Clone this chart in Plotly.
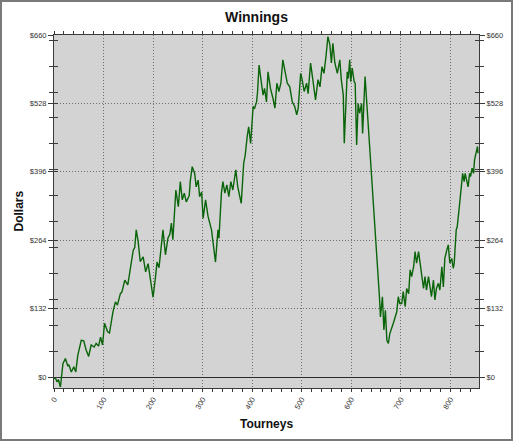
import plotly.graph_objects as go

# Data (tourney number, cumulative winnings in $)
tourneys = [0, 3, 6, 9, 13, 18, 23, 28, 30, 35, 40, 44, 48, 55, 60, 65, 70, 75, 81, 85,
            90, 94, 98, 102, 108, 112, 119, 124, 128, 134, 137, 143, 149, 155, 160, 163, 166, 170, 174, 180,
            185, 190, 193, 200, 205, 208, 212, 217, 220, 225, 230, 234, 237, 240, 246, 251, 255, 259, 263, 267,
            273, 275, 279, 284, 287, 291, 294, 298, 301, 306, 311, 318, 326, 331, 333, 338, 341, 345, 349, 353,
            357, 361, 367, 371, 375, 378, 383, 386, 390, 393, 397, 400, 402, 405, 409, 411, 414, 417, 422, 425,
            429, 432, 437, 442, 446, 450, 454, 458, 462, 467, 471, 476, 481, 486, 490, 493, 498, 501, 505, 510,
            513, 518, 523, 528, 533, 537, 541, 545, 549, 553, 557, 560, 563, 567, 572, 577, 580, 584, 586, 589,
            592, 594, 597, 599, 602, 606, 608, 611, 614, 617, 621, 623, 626, 628, 657, 659, 663, 666, 669, 672,
            675, 678, 685, 692, 695, 698, 702, 705, 709, 712, 716, 719, 722, 726, 729, 732, 736, 739, 742, 746,
            749, 752, 756, 759, 762, 766, 769, 772, 776, 779, 783, 786, 789, 793, 796, 799, 803, 806, 808, 812,
            814, 818, 822, 825, 828, 830, 833, 836, 839, 841, 844, 847, 849, 852, 855, 856]
dollars = [-3, -2, -9, -5, -19, 26, 36, 21, 24, 10, 20, 10, 42, 71, 70, 52, 40, 62, 58, 65,
           60, 77, 62, 104, 88, 85, 126, 145, 139, 161, 164, 187, 178, 213, 245, 250, 284, 261, 223, 232,
           203, 219, 197, 154, 194, 222, 211, 255, 284, 236, 268, 276, 297, 265, 361, 329, 377, 342, 355, 338,
           350, 377, 406, 393, 367, 380, 348, 357, 306, 342, 310, 284, 222, 284, 268, 355, 377, 355, 371, 348,
           377, 361, 400, 367, 351, 335, 413, 428, 464, 483, 451, 502, 522, 519, 531, 551, 602, 580, 544, 557,
           531, 589, 557, 538, 519, 567, 551, 567, 612, 587, 567, 560, 531, 522, 506, 519, 586, 574, 551, 567,
           547, 606, 574, 535, 574, 560, 599, 586, 618, 657, 641, 606, 644, 606, 586, 612, 574, 544, 451, 531,
           589, 576, 612, 570, 596, 570, 567, 448, 528, 509, 528, 470, 522, 580, 155, 116, 155, 91, 129, 71,
           65, 84, 104, 126, 155, 142, 142, 165, 136, 171, 161, 207, 194, 213, 242, 220, 242, 220, 194, 171,
           194, 168, 194, 174, 155, 187, 149, 171, 181, 168, 213, 174, 229, 245, 255, 220, 229, 210, 220, 284,
           290, 326, 374, 393, 377, 393, 380, 367, 393, 387, 403, 393, 419, 435, 445, 432]

y_tick_vals = [0, 132, 264, 396, 528, 660]
y_tick_text = ["$0", "$132", "$264", "$396", "$528", "$660"]
x_tick_vals = [0, 100, 200, 300, 400, 500, 600, 700, 800]
x_tick_text = ["0", "100", "200", "300", "400", "500", "600", "700", "800"]

X_RANGE = [0, 858]
Y_RANGE = [-21, 660]
AXIS_COLOR = "#3a3a3a"
LABEL_COLOR = "#333333"
GRID_COLOR = "#6e6e6e"
GRID_DASH = "1px,2px"
TICK_FONT = dict(family="Liberation Sans, Arial, sans-serif", size=7.5, color=LABEL_COLOR)

fig = go.Figure()
fig.add_trace(go.Scatter(x=tourneys, y=dollars, mode="lines",
                         line=dict(color="#0a640a", width=1.4),
                         hoverinfo="skip", showlegend=False))
# invisible companions so the overlay axes are drawn
fig.add_trace(go.Scatter(x=tourneys, y=dollars, mode="lines", yaxis="y2",
                         line=dict(color="rgba(0,0,0,0)"), hoverinfo="skip", showlegend=False))
fig.add_trace(go.Scatter(x=tourneys, y=dollars, mode="lines", yaxis="y3",
                         line=dict(color="rgba(0,0,0,0)"), hoverinfo="skip", showlegend=False))

W, H = 513, 441
ML, MR, MT, MB = 54, 34, 35, 53
pw, ph = W - ML - MR, H - MT - MB

fig.update_layout(
    template="none",
    width=W, height=H,
    margin=dict(l=ML, r=MR, t=MT, b=MB, pad=0),
    font=dict(family="Liberation Sans, Arial, sans-serif", color=LABEL_COLOR),
    paper_bgcolor="white",
    plot_bgcolor="#d3d3d3",
    title=dict(text="<b>Winnings</b>", x=0.5, xref="container", xanchor="center",
               y=1 - 17 / H, yref="container", yanchor="middle",
               font=dict(family="Liberation Sans, Arial, sans-serif", size=14, color="#111111")),
    xaxis=dict(range=X_RANGE, autorange=False, tickvals=x_tick_vals, ticktext=x_tick_text,
               tickangle=-60, tickfont=TICK_FONT, color=LABEL_COLOR,
               ticks="outside", ticklen=3, tickcolor=AXIS_COLOR, tickwidth=1,
               minor=dict(tick0=0, dtick=20, ticks="outside", ticklen=3, tickcolor=AXIS_COLOR, showgrid=False),
               showline=True, linecolor=AXIS_COLOR, linewidth=1, mirror="allticks",
               showgrid=True, gridcolor=GRID_COLOR, griddash=GRID_DASH, gridwidth=1,
               zeroline=False, fixedrange=True),
    yaxis=dict(range=Y_RANGE, autorange=False, tickvals=y_tick_vals, ticktext=y_tick_text,
               tickfont=TICK_FONT, color=LABEL_COLOR,
               ticks="outside", ticklen=5, tickcolor=AXIS_COLOR, tickwidth=1,
               minor=dict(tick0=0, dtick=50, ticks="outside", ticklen=4, tickcolor=AXIS_COLOR, showgrid=False),
               showline=True, linecolor=AXIS_COLOR, linewidth=1, mirror="allticks",
               showgrid=True, gridcolor=GRID_COLOR, griddash=GRID_DASH, gridwidth=1,
               zeroline=True, zerolinecolor="#2a2a2a", zerolinewidth=1, fixedrange=True),
    yaxis2=dict(range=Y_RANGE, autorange=False, overlaying="y", side="right", anchor="x",
                tickvals=y_tick_vals, ticktext=y_tick_text, tickfont=TICK_FONT, color=LABEL_COLOR,
                ticks="outside", ticklen=5, tickcolor=AXIS_COLOR,
                showline=False, showgrid=False, zeroline=False, fixedrange=True),
    yaxis3=dict(range=Y_RANGE, autorange=False, overlaying="y", side="left", anchor="x",
                tickvals=y_tick_vals, showticklabels=False, color=LABEL_COLOR,
                ticks="inside", ticklen=4, tickcolor=AXIS_COLOR, mirror="allticks",
                minor=dict(tick0=0, dtick=50, ticks="inside", ticklen=4, tickcolor=AXIS_COLOR, showgrid=False),
                showline=False, showgrid=False, zeroline=False, fixedrange=True),
    annotations=[
        dict(text="<b>Tourneys</b>", xref="paper", yref="paper", x=0.5, y=-(424 - MT - ph) / ph,
             xanchor="center", yanchor="middle", showarrow=False,
             font=dict(family="Liberation Sans, Arial, sans-serif", size=12, color="#111111")),
        dict(text="<b>Dollars</b>", xref="paper", yref="paper", x=-(ML - 18) / pw, y=0.5,
             xanchor="center", yanchor="middle", textangle=-90, showarrow=False,
             font=dict(family="Liberation Sans, Arial, sans-serif", size=12, color="#111111")),
    ],
    shapes=[
        dict(type="rect", xref="paper", yref="paper",
             x0=-(ML - 1) / pw, x1=1 + (MR - 1) / pw,
             y0=-(MB - 1) / ph, y1=1 + (MT - 1) / ph,
             line=dict(color="#7a7a7a", width=2), fillcolor="rgba(0,0,0,0)", layer="below"),
    ],
)

fig.write_html("out.html", config={"displayModeBar": False},
               post_script="document.body.style.margin='0';document.body.style.overflow='hidden';")
